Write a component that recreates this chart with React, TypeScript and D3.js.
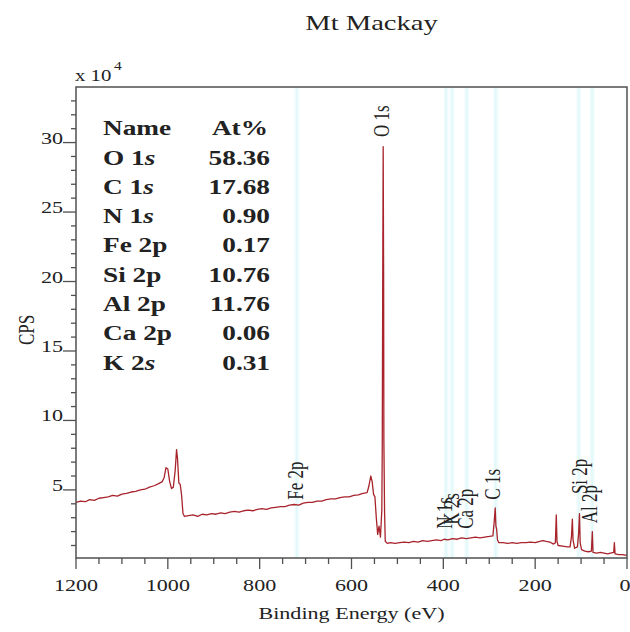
import React from "react";
import * as d3 from "d3";

// survey spectrum, [binding energy (eV), CPS x 10^4]
const spectrum: [number, number][] = [
  [1200, 4.1], [1190, 4.2], [1180, 4.15], [1170, 4.3], [1160, 4.25], [1150, 4.4],
  [1140, 4.45], [1130, 4.5], [1120, 4.6], [1110, 4.55], [1100, 4.7], [1090, 4.75],
  [1080, 4.85], [1070, 4.9], [1060, 5.0], [1050, 5.05], [1040, 5.2], [1030, 5.3],
  [1020, 5.45], [1012, 5.6], [1008, 5.9], [1004, 6.6], [1000, 6.5], [996, 5.6],
  [992, 5.1], [988, 5.2], [984, 6.4], [981, 7.9], [979, 7.3], [976, 5.5], [973, 5.4],
  [970, 4.6], [967, 3.3], [964, 3.1], [955, 3.15], [945, 3.2], [935, 3.1], [925, 3.25],
  [915, 3.2], [905, 3.3], [895, 3.25], [885, 3.35], [875, 3.3], [865, 3.4], [855, 3.45],
  [845, 3.4], [835, 3.5], [825, 3.55], [815, 3.5], [805, 3.6], [795, 3.65], [785, 3.6],
  [775, 3.7], [765, 3.75], [755, 3.8], [745, 3.8], [735, 3.9], [725, 3.95], [715, 3.9],
  [705, 4.05], [695, 4.1], [685, 4.1], [675, 4.2], [665, 4.2], [655, 4.3], [645, 4.35],
  [635, 4.35], [625, 4.45], [615, 4.5], [605, 4.5], [595, 4.6], [585, 4.65], [575, 4.75],
  [566, 4.8], [562, 5.3], [558, 6.0], [555, 5.6], [552, 4.7], [549, 4.5], [546, 3.0],
  [543, 1.8], [540, 2.4], [537, 1.6], [534, 3.5], [533, 8], [532, 20], [531, 29.7],
  [530, 20], [529.5, 8.6], [528, 3.5], [526.5, 1.3], [522, 1.15], [515, 1.2], [505, 1.15], [495, 1.2],
  [485, 1.25], [475, 1.2], [465, 1.3], [455, 1.25], [445, 1.35], [435, 1.3], [425, 1.35],
  [415, 1.4], [405, 1.35], [398, 1.45], [390, 1.4], [380, 1.5], [370, 1.45], [360, 1.55],
  [350, 1.5], [340, 1.55], [330, 1.6], [320, 1.55], [310, 1.6], [300, 1.65], [292, 1.7],
  [289, 2.8], [287, 3.7], [285.5, 2.4], [284, 2.2], [282, 1.4], [279, 1.2], [270, 1.2],
  [260, 1.15], [250, 1.2], [240, 1.15], [230, 1.2], [220, 1.2], [210, 1.25], [200, 1.2],
  [190, 1.3], [183, 1.35], [176, 1.3], [168, 1.25], [160, 1.1], [156, 1.2], [154, 3.2],
  [152.5, 1.3], [150, 1.0], [140, 0.95], [130, 0.9], [124, 0.9], [121, 1.6], [119, 2.9],
  [117.5, 1.4], [114, 0.8], [108, 0.9], [105.5, 1.8], [103.5, 3.3], [102, 1.2], [99, 0.7],
  [92, 0.6], [84, 0.55], [77.5, 0.6], [75.5, 2.0], [74, 0.5], [66, 0.45], [58, 0.5],
  [50, 0.45], [42, 0.4], [36, 0.45], [29, 0.5], [27.5, 1.2], [26, 0.4], [18, 0.35],
  [10, 0.35], [4, 0.3], [0, 0.3],
];

// quantification table
const tableNames = ["O 1s", "C 1s", "N 1s", "Fe 2p", "Si 2p", "Al 2p", "Ca 2p", "K 2s"];
const tableValues = ["58.36", "17.68", "0.90", "0.17", "10.76", "11.76", "0.06", "0.31"];

// peak markers
const peakNames = ["Fe 2p", "O 1s", "N 1s", "K 2s", "Ca 2p", "C 1s", "Si 2p", "Al 2p"];
const peakEV = [718, 531, 394, 380, 349, 290, 100, 79];
const peakLabelBase = [4.3, 30.4, 2.2, 2.5, 2.2, 4.3, 4.7, 2.6];
const bandEV = [719, 394, 381, 349, 286, 105, 76];

const xTicks = [1200, 1000, 800, 600, 400, 200, 0];
const yTicks = [5, 10, 15, 20, 25, 30];

const W = 630;
const H = 632;
const SX = 1.3; // glyphs in the picture are wide
const FONT = "'Liberation Serif', 'Times New Roman', serif";
const AXIS = "#505050";

const x = d3.scaleLinear().domain([1200, 0]).range([76, 627]);
const y = d3.scaleLinear().domain([0.1, 34]).range([558, 87]);

const Txt = ({ x, y, size, anchor = "start", weight = "normal", rot = false, fill = "#222", children }: any) => (
  <text
    transform={rot ? `translate(${x},${y}) rotate(-90) scale(1,${SX})` : `translate(${x},${y}) scale(${SX},1)`}
    fontSize={size}
    fontWeight={weight}
    textAnchor={anchor}
    fontFamily={FONT}
    fill={fill}
  >
    {children}
  </text>
);

// "1s" style names get an italic s like the original table
const nameParts = (n: string) =>
  n.endsWith("s") ? (
    <>
      {n.slice(0, -1)}
      <tspan fontStyle="italic">s</tspan>
    </>
  ) : (
    n
  );

export default function App() {
  const line = d3
    .line<[number, number]>()
    .x((d) => x(d[0]))
    .y((d) => y(d[1]));

  const [x0, x1] = x.range();
  const [yb, yt] = y.range();
  const bandHalf = 8;

  return (
    <svg
      width={W}
      height={H}
      style={{ position: "absolute", left: 0, top: 0, background: "#fff" }}
    >
      <defs>
        <linearGradient id="band" x1="0" x2="1" y1="0" y2="0">
          <stop offset="0" stopColor="#eefcfd" stopOpacity="0" />
          <stop offset="0.5" stopColor="#dbf6f8" stopOpacity="0.9" />
          <stop offset="1" stopColor="#eefcfd" stopOpacity="0" />
        </linearGradient>
      </defs>

      {/* title */}
      <Txt x={(x0 + x1) / 2 + 20} y={30} size={22} anchor="middle">
        Mt Mackay
      </Txt>

      {/* peak bands */}
      {bandEV.map((e) => (
        <rect
          key={e}
          x={x(e + bandHalf)}
          y={yt}
          width={x(e - bandHalf) - x(e + bandHalf)}
          height={yb - yt}
          fill="url(#band)"
        />
      ))}

      {/* spectrum */}
      <path d={line(spectrum) ?? ""} fill="none" stroke="#a8232b" strokeWidth={1.3} strokeLinejoin="round" />

      {/* frame */}
      <rect x={x0} y={yt} width={x1 - x0} height={yb - yt} fill="none" stroke={AXIS} strokeWidth={1.5} />

      {/* x ticks */}
      {d3.range(0, 1201, 50).map((v) => (
        <line
          key={v}
          x1={x(v)}
          x2={x(v)}
          y1={yb}
          y2={yb + (v % 200 === 0 ? 11 : 6)}
          stroke={AXIS}
          strokeWidth={1.3}
        />
      ))}
      {xTicks.map((v) => (
        <Txt key={v} x={v === 0 ? x(v) - 2 : x(v)} y={591} size={17} anchor="middle">
          {v}
        </Txt>
      ))}
      <Txt x={(x0 + x1) / 2} y={619} size={17} anchor="middle">
        Binding Energy (eV)
      </Txt>

      {/* y ticks */}
      {d3.range(1, 34).map((v) => (
        <line
          key={v}
          x1={x0}
          x2={x0 - (v % 5 === 0 ? 13 : 5)}
          y1={y(v)}
          y2={y(v)}
          stroke={AXIS}
          strokeWidth={1.3}
        />
      ))}
      {yTicks.map((v) => (
        <Txt key={v} x={x0 - 13} y={y(v) + 1} size={17} anchor="end">
          {v}
        </Txt>
      ))}
      <Txt x={34} y={330} size={17} anchor="middle" rot>
        CPS
      </Txt>
      <Txt x={75} y={81} size={16}>
        x 10
      </Txt>
      <Txt x={114} y={70} size={12}>
        4
      </Txt>

      {/* peak labels */}
      {peakNames.map((n, i) => (
        <Txt key={n} x={x(peakEV[i]) + 6} y={y(peakLabelBase[i])} size={17} rot>
          {n}
        </Txt>
      ))}

      {/* table */}
      <Txt x={103} y={135} size={21} weight="bold">
        Name
      </Txt>
      <Txt x={268} y={135} size={21} weight="bold" anchor="end">
        At%
      </Txt>
      {tableNames.map((n, i) => (
        <g key={n}>
          <Txt x={103} y={164.5 + i * 29.3} size={21} weight="bold">
            {nameParts(n)}
          </Txt>
          <Txt x={270} y={164.5 + i * 29.3} size={21} weight="bold" anchor="end">
            {tableValues[i]}
          </Txt>
        </g>
      ))}
    </svg>
  );
}
